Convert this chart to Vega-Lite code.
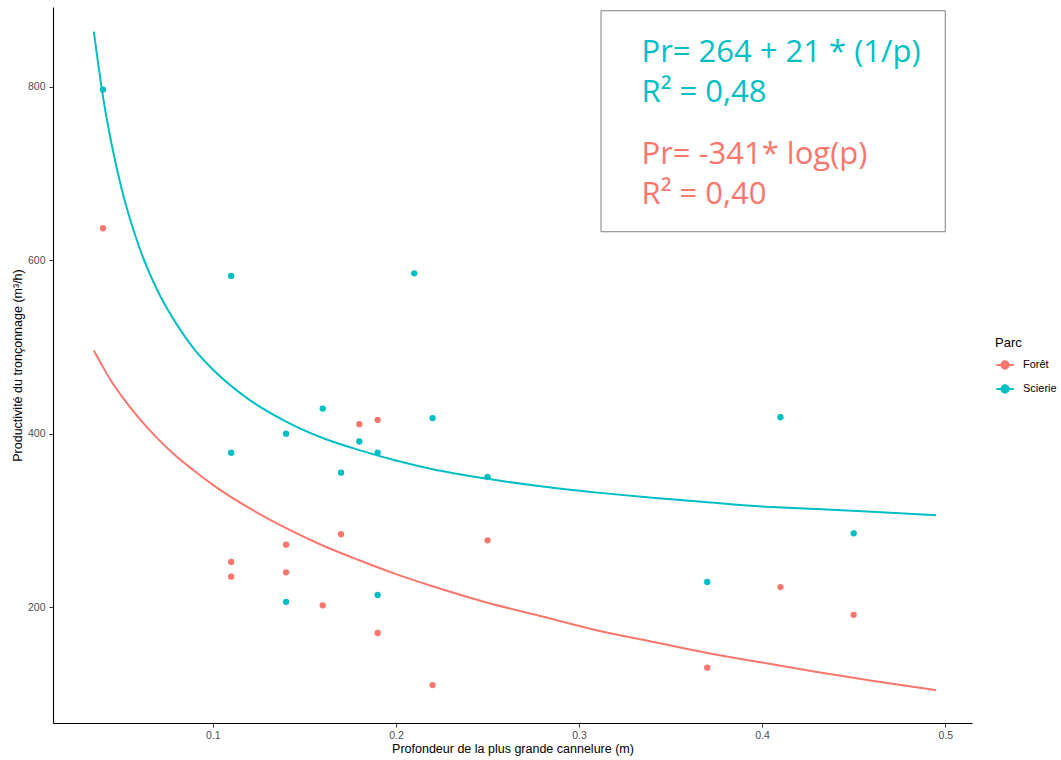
{
  "$schema": "https://vega.github.io/schema/vega-lite/v6.json",
  "width": 919,
  "height": 716,
  "autosize": {"type": "none"},
  "padding": {"left": 53, "top": 7, "right": 89, "bottom": 37},
  "background": "white",
  "view": {"stroke": null},
  "config": {
    "font": "Liberation Sans",
    "axis": {
      "grid": false,
      "domainColor": "#000000",
      "domainWidth": 1.1,
      "tickColor": "#333333",
      "tickSize": 4,
      "labelColor": "#4d4d4d",
      "labelFont": "Liberation Sans",
      "labelFontSize": 10.5,
      "titleFont": "Liberation Sans",
      "titleFontSize": 12.5,
      "titleFontWeight": "normal",
      "titleColor": "#000000"
    },
    "legend": {
      "titleFont": "Liberation Sans",
      "titleFontSize": 13,
      "titleFontWeight": "normal",
      "titleColor": "#000000",
      "labelFont": "Liberation Sans",
      "labelFontSize": 11,
      "labelColor": "#000000"
    }
  },
  "datasets": {
    "points": [
      {"p": 0.04, "pr": 797, "Parc": "Scierie"},
      {"p": 0.11, "pr": 582, "Parc": "Scierie"},
      {"p": 0.11, "pr": 378, "Parc": "Scierie"},
      {"p": 0.14, "pr": 400, "Parc": "Scierie"},
      {"p": 0.14, "pr": 206, "Parc": "Scierie"},
      {"p": 0.16, "pr": 429, "Parc": "Scierie"},
      {"p": 0.17, "pr": 355, "Parc": "Scierie"},
      {"p": 0.18, "pr": 391, "Parc": "Scierie"},
      {"p": 0.19, "pr": 378, "Parc": "Scierie"},
      {"p": 0.19, "pr": 214, "Parc": "Scierie"},
      {"p": 0.21, "pr": 585, "Parc": "Scierie"},
      {"p": 0.22, "pr": 418, "Parc": "Scierie"},
      {"p": 0.25, "pr": 350, "Parc": "Scierie"},
      {"p": 0.37, "pr": 229, "Parc": "Scierie"},
      {"p": 0.41, "pr": 419, "Parc": "Scierie"},
      {"p": 0.45, "pr": 285, "Parc": "Scierie"},
      {"p": 0.04, "pr": 637, "Parc": "Forêt"},
      {"p": 0.11, "pr": 252, "Parc": "Forêt"},
      {"p": 0.11, "pr": 235, "Parc": "Forêt"},
      {"p": 0.14, "pr": 272, "Parc": "Forêt"},
      {"p": 0.14, "pr": 240, "Parc": "Forêt"},
      {"p": 0.16, "pr": 202, "Parc": "Forêt"},
      {"p": 0.17, "pr": 284, "Parc": "Forêt"},
      {"p": 0.18, "pr": 411, "Parc": "Forêt"},
      {"p": 0.19, "pr": 416, "Parc": "Forêt"},
      {"p": 0.19, "pr": 170, "Parc": "Forêt"},
      {"p": 0.22, "pr": 110, "Parc": "Forêt"},
      {"p": 0.25, "pr": 277, "Parc": "Forêt"},
      {"p": 0.37, "pr": 130, "Parc": "Forêt"},
      {"p": 0.41, "pr": 223, "Parc": "Forêt"},
      {"p": 0.45, "pr": 191, "Parc": "Forêt"}
    ],
    "curves": [
      {"p": 0.035, "pr": 864, "Parc": "Scierie"},
      {"p": 0.04, "pr": 789, "Parc": "Scierie"},
      {"p": 0.045, "pr": 731, "Parc": "Scierie"},
      {"p": 0.05, "pr": 684, "Parc": "Scierie"},
      {"p": 0.06, "pr": 614, "Parc": "Scierie"},
      {"p": 0.07, "pr": 564, "Parc": "Scierie"},
      {"p": 0.08, "pr": 527, "Parc": "Scierie"},
      {"p": 0.09, "pr": 497, "Parc": "Scierie"},
      {"p": 0.1, "pr": 474, "Parc": "Scierie"},
      {"p": 0.12, "pr": 439, "Parc": "Scierie"},
      {"p": 0.14, "pr": 414, "Parc": "Scierie"},
      {"p": 0.16, "pr": 395, "Parc": "Scierie"},
      {"p": 0.18, "pr": 381, "Parc": "Scierie"},
      {"p": 0.2, "pr": 369, "Parc": "Scierie"},
      {"p": 0.22, "pr": 359, "Parc": "Scierie"},
      {"p": 0.25, "pr": 348, "Parc": "Scierie"},
      {"p": 0.28, "pr": 339, "Parc": "Scierie"},
      {"p": 0.31, "pr": 332, "Parc": "Scierie"},
      {"p": 0.34, "pr": 326, "Parc": "Scierie"},
      {"p": 0.37, "pr": 321, "Parc": "Scierie"},
      {"p": 0.4, "pr": 316, "Parc": "Scierie"},
      {"p": 0.43, "pr": 313, "Parc": "Scierie"},
      {"p": 0.46, "pr": 310, "Parc": "Scierie"},
      {"p": 0.495, "pr": 306, "Parc": "Scierie"},
      {"p": 0.035, "pr": 496, "Parc": "Forêt"},
      {"p": 0.04, "pr": 477, "Parc": "Forêt"},
      {"p": 0.045, "pr": 459, "Parc": "Forêt"},
      {"p": 0.05, "pr": 444, "Parc": "Forêt"},
      {"p": 0.06, "pr": 417, "Parc": "Forêt"},
      {"p": 0.07, "pr": 394, "Parc": "Forêt"},
      {"p": 0.08, "pr": 374, "Parc": "Forêt"},
      {"p": 0.09, "pr": 357, "Parc": "Forêt"},
      {"p": 0.1, "pr": 341, "Parc": "Forêt"},
      {"p": 0.12, "pr": 314, "Parc": "Forêt"},
      {"p": 0.14, "pr": 291, "Parc": "Forêt"},
      {"p": 0.16, "pr": 271, "Parc": "Forêt"},
      {"p": 0.18, "pr": 254, "Parc": "Forêt"},
      {"p": 0.2, "pr": 238, "Parc": "Forêt"},
      {"p": 0.22, "pr": 224, "Parc": "Forêt"},
      {"p": 0.25, "pr": 205, "Parc": "Forêt"},
      {"p": 0.28, "pr": 189, "Parc": "Forêt"},
      {"p": 0.31, "pr": 173, "Parc": "Forêt"},
      {"p": 0.34, "pr": 160, "Parc": "Forêt"},
      {"p": 0.37, "pr": 147, "Parc": "Forêt"},
      {"p": 0.4, "pr": 136, "Parc": "Forêt"},
      {"p": 0.43, "pr": 125, "Parc": "Forêt"},
      {"p": 0.46, "pr": 115, "Parc": "Forêt"},
      {"p": 0.495, "pr": 104, "Parc": "Forêt"}
    ],
    "box": [
      {"x1": 0.312, "x2": 0.5, "y1": 633, "y2": 888}
    ],
    "labels": [
      {"p": 0.3341, "pr": 828.4, "txt": "Pr= 264 + 21 * (1/p)", "col": "#00BFC4"},
      {"p": 0.3341, "pr": 782.2, "txt": "R² = 0,48", "col": "#00BFC4"},
      {"p": 0.3341, "pr": 711.5, "txt": "Pr= -341* log(p)", "col": "#F8766D"},
      {"p": 0.3341, "pr": 665.4, "txt": "R² = 0,40", "col": "#F8766D"}
    ]
  },
  "layer": [
    {
      "data": {"name": "box"},
      "mark": {"type": "rect", "fill": null, "stroke": "#7f7f7f", "strokeWidth": 1},
      "encoding": {
        "x": {"field": "x1", "type": "quantitative", "scale": {"domain": [0.0127, 0.5146], "nice": false, "zero": false}},
        "x2": {"field": "x2"},
        "y": {"field": "y1", "type": "quantitative", "scale": {"domain": [66.2, 892.3], "nice": false, "zero": false}},
        "y2": {"field": "y2"}
      }
    },
    {
      "data": {"name": "points"},
      "mark": {"type": "point", "filled": true, "opacity": 1, "size": 40},
      "encoding": {
        "x": {"field": "p", "type": "quantitative", "scale": {"domain": [0.0127, 0.5146], "nice": false, "zero": false},
          "axis": {"values": [0.1, 0.2, 0.3, 0.4, 0.5], "format": ".1f", "title": "Profondeur de la plus grande cannelure (m)", "labelPadding": 3, "titlePadding": 2}},
        "y": {"field": "pr", "type": "quantitative", "scale": {"domain": [66.2, 892.3], "nice": false, "zero": false},
          "axis": {"values": [200, 400, 600, 800], "title": "Productivité du tronçonnage (m³/h)", "labelPadding": 4, "titlePadding": 3}},
        "color": {"field": "Parc", "type": "nominal",
          "scale": {"domain": ["Forêt", "Scierie"], "range": ["#F8766D", "#00BFC4"]},
          "legend": {"orient": "none", "legendX": 942, "legendY": 330, "title": "Parc",
            "symbolType": "M-1,0H1M0.42,0A0.42,0.42 0 1 1 -0.42,0A0.42,0.42 0 1 1 0.42,0Z",
            "symbolSize": 300, "symbolStrokeWidth": 2, "rowPadding": 6, "labelOffset": 8}}
      }
    },
    {
      "data": {"name": "curves"},
      "mark": {"type": "line", "strokeWidth": 2, "interpolate": "monotone"},
      "encoding": {
        "x": {"field": "p", "type": "quantitative"},
        "y": {"field": "pr", "type": "quantitative"},
        "color": {"field": "Parc", "type": "nominal"}
      }
    },
    {
      "data": {"name": "labels"},
      "mark": {"type": "text", "align": "left", "baseline": "alphabetic", "font": "Open Sans", "fontSize": 31},
      "encoding": {
        "x": {"field": "p", "type": "quantitative"},
        "y": {"field": "pr", "type": "quantitative"},
        "text": {"field": "txt"},
        "color": {"field": "col", "type": "nominal", "scale": null}
      }
    }
  ]
}
